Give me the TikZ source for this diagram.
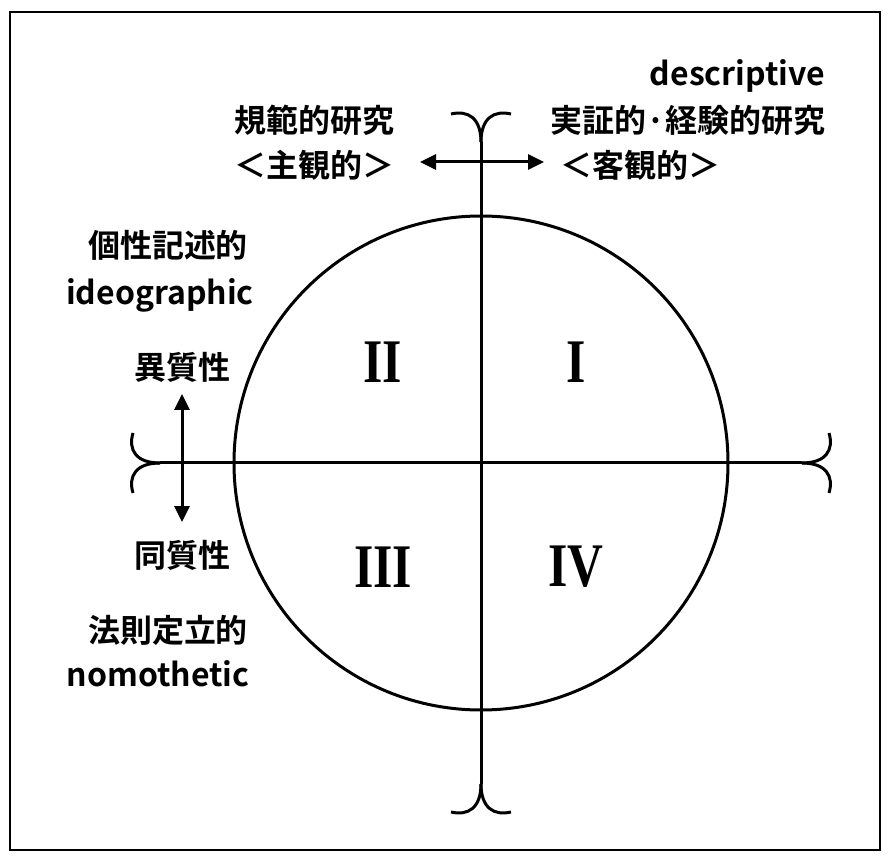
\documentclass[tikz,border=0pt]{standalone}
\usepackage{fontspec}
\setmainfont{Noto Sans CJK JP}[BoldFont={Noto Sans CJK JP Bold}]
\newfontfamily\numf{Liberation Serif}
\usetikzlibrary{arrows.meta}
\begin{document}
\begin{tikzpicture}[x=1pt,y=-1pt,line width=3pt,
  lbl/.style={font=\fontsize{32}{34}\selectfont\bfseries},
  num/.style={font=\fontsize{62}{62}\selectfont\numf\bfseries,xscale=0.8},
  arr/.style={{Triangle[length=16pt,width=15pt]}-{Triangle[length=16pt,width=15pt]}}]
\useasboundingbox (0,0) rectangle (892,866);
\fill[white] (0,0) rectangle (892,866);
\draw[line width=1.6pt] (10,12) rectangle (880,850);
\node (c) at (481,463) {};
\draw (481,463) circle (247);
\coordinate (t) at (481,142); \coordinate (b) at (481,784);
\coordinate (l) at (160,463); \coordinate (r) at (802,463);
\draw (t) -- (b); \draw (l) -- (r);
\draw (t) .. controls (481,118) and (468,110) .. (451,114);
\draw (t) .. controls (481,118) and (494,110) .. (511,114);
\draw (b) .. controls (481,808) and (468,816) .. (451,812);
\draw (b) .. controls (481,808) and (494,816) .. (511,812);
\draw (l) .. controls (136,463) and (128,450) .. (133,433);
\draw (l) .. controls (136,463) and (128,476) .. (133,493);
\draw (r) .. controls (826,463) and (834,450) .. (829,433);
\draw (r) .. controls (826,463) and (834,476) .. (829,493);
\coordinate (ha) at (420,162); \coordinate (hb) at (544,162);
\draw[arr] (ha) -- (hb);
\coordinate (va) at (182,394); \coordinate (vb) at (182,522);
\draw[arr] (va) -- (vb);
\node[lbl,anchor=east] (d1) at (830,76) {descriptive};
\node[lbl,anchor=east] (d2) at (830,120) {実証的·経験的研究};
\node[lbl] (d3) at (640,165) {＜客観的＞};
\node[lbl] (n1) at (314,120) {規範的研究};
\node[lbl] (n2) at (314,165) {＜主観的＞};
\node[lbl] (i1) at (168,245) {個性記述的};
\node[lbl] (i2) at (160,295) {ideographic};
\node[lbl] (h1) at (182,367) {異質性};
\node[lbl] (h2) at (182,555) {同質性};
\node[lbl] (o1) at (168,630) {法則定立的};
\node[lbl] (o2) at (158,674) {nomothetic};
\node[num] (q2) at (383,362) {II};
\node[num] (q1) at (576,362) {I};
\node[num] (q3) at (383,567) {III};
\node[num] (q4) at (576,567) {IV};
\end{tikzpicture}
\end{document}
